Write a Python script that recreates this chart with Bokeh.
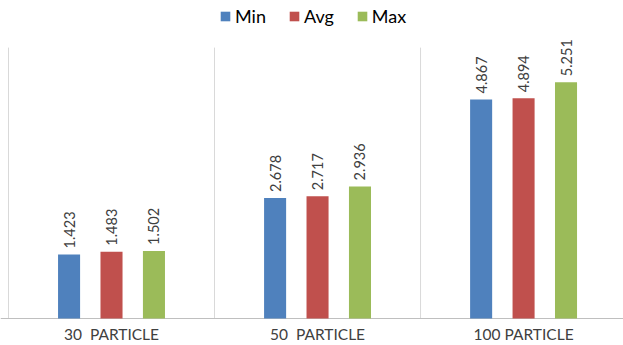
from bokeh.plotting import figure
from bokeh.models import ColumnDataSource, Range1d, Legend, LegendItem
from bokeh.core.properties import value
from bokeh.embed import file_html
from bokeh.resources import INLINE

categories = ["30  PARTICLE", "50  PARTICLE", "100 PARTICLE"]
series = ["Min", "Avg", "Max"]
min_vals = [1.423, 2.678, 4.867]
avg_vals = [1.483, 2.717, 4.894]
max_vals = [1.502, 2.936, 5.251]
colors = ["#4F81BD", "#C0504D", "#9BBB59"]

FONT = "Lato"
centers = [i + 0.5 for i in range(len(categories))]
offsets = [-0.206, 0.0, 0.206]
bar_w = 0.107
grid_top = 6.02

# the frame fills the whole canvas; axis line, separators and labels are drawn as glyphs
p = figure(width=623, height=345, output_backend="svg", toolbar_location=None,
           x_range=Range1d(-0.0388, 2.985), y_range=Range1d(-0.6, 7.067),
           min_border=0)
p.outline_line_color = None
p.axis.visible = False
p.grid.visible = False
p.background_fill_color = "white"
p.border_fill_color = "white"

# category separators and baseline
seps = list(range(len(categories) + 1))
p.segment(x0=seps, y0=[0] * len(seps), x1=seps, y1=[grid_top] * len(seps),
          line_color="#D9D9D9", line_width=1)
p.segment(x0=[-0.0388], y0=[0], x1=[2.985], y1=[0], line_color="#BFBFBF", line_width=1)

# category labels
cat_src = ColumnDataSource(dict(x=centers, y=[0] * len(centers),
                                lab=[c.replace("  ", "\u00a0\u00a0") for c in categories]))
p.text(x="x", y="y", text="lab", source=cat_src, text_align="center",
       text_baseline="middle", y_offset=15, text_font=value(FONT),
       text_font_size="15.5px", text_color="#404040")

items = []
for vals, name, col, off in zip([min_vals, avg_vals, max_vals], series, colors, offsets):
    src = ColumnDataSource(dict(
        x=[c + off for c in centers], top=vals,
        lab=[f"{v:.3f}" for v in vals]))
    r = p.vbar(x="x", top="top", width=bar_w, bottom=0, source=src,
               fill_color=col, line_color=None)
    p.text(x="x", y="top", text="lab", source=src, angle=1.5708,
           text_align="left", text_baseline="middle", y_offset=-6,
           text_font=value(FONT), text_font_size="14.5px", text_color="#404040")
    items.append(LegendItem(label=name, renderers=[r]))

legend = Legend(items=items, orientation="horizontal", location=(219, 318),
                border_line_color=None, background_fill_alpha=0,
                glyph_width=12, glyph_height=12, spacing=22, label_standoff=4,
                label_text_font=FONT, label_text_font_size="18px",
                label_text_color="#000000", padding=0, margin=0)
p.add_layout(legend, "center")

open("out.html", "w").write(file_html(p, INLINE))
